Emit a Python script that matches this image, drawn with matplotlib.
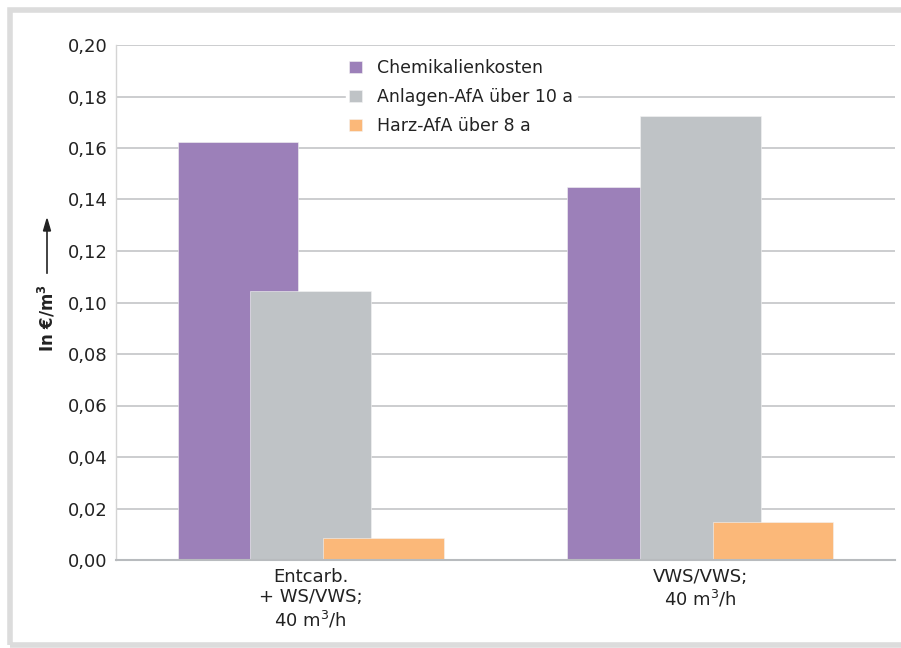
import numpy as np
from matplotlib import pyplot as plt
from matplotlib.patches import Rectangle

# Kosten je Kubikmeter fuer zwei Anlagenvarianten
groups = ['Entcarb.\n+ WS/VWS;\n40 m$^3$/h', 'VWS/VWS;\n40 m$^3$/h']
chem = [0.1623, 0.1450]
anlage = [0.1043, 0.1725]
harz = [0.0085, 0.0148]
series_names = ['Chemikalienkosten', 'Anlagen-AfA über 10 a', 'Harz-AfA über 8 a']
colors = ['#9c80b9', '#bfc3c6', '#fbb879']
yticks = [0.0, 0.02, 0.04, 0.06, 0.08, 0.10, 0.12, 0.14, 0.16, 0.18, 0.20]

plt.rcParams['font.family'] = ['DejaVu Sans']
fig = plt.figure(figsize=(9.01, 6.48), dpi=100)
ax = fig.add_axes([116/901, 1-560/648, (895-116)/901, (560-45)/648])

x = np.arange(len(groups))
w = 0.31
off = 0.187
for i, (vals, name, c) in enumerate(zip([chem, anlage, harz], series_names, colors)):
    ax.bar(x + (i-1)*off, vals, w, color=c, label=name, zorder=2+i,
           edgecolor='#f4f4f4', linewidth=0.4)

ax.set_xlim(-0.5, 1.5)
ax.set_ylim(0, 0.2)
ax.set_yticks(yticks)
ax.set_yticklabels([f'{v:.2f}'.replace('.', ',') for v in yticks], fontsize=13, color='#222222')
ax.set_xticks(x)
ax.set_xticklabels(groups, fontsize=13, color='#222222', linespacing=1.15)
ax.tick_params(axis='y', length=0, pad=6)
ax.tick_params(axis='x', length=0, pad=6)
ax.yaxis.grid(True, color='#c8c9cb', linewidth=1.3, zorder=0)
ax.set_axisbelow(True)
for s in ['top', 'right']:
    ax.spines[s].set_visible(False)
ax.spines['left'].set_color('#d4d4d4')
ax.spines['left'].set_linewidth(1.0)
ax.spines['bottom'].set_color('#b8bbbe')
ax.spines['bottom'].set_linewidth(1.5)
ax.spines['bottom'].set_zorder(6)

leg = ax.legend(loc='upper left', bbox_to_anchor=(0.284, 0.996), frameon=True,
                fontsize=12.5, handlelength=0.7, handleheight=0.7,
                handletextpad=0.9, labelspacing=0.62, borderpad=0.2)
leg.get_frame().set_facecolor('white')
leg.get_frame().set_edgecolor('white')
leg.get_frame().set_alpha(1)
leg.set_zorder(10)
for t in leg.get_texts():
    t.set_color('#222222')

# Achsbeschriftung mit Pfeil
fig.text(47/901, 1-318/648, 'In €/m$^\\mathbf{3}$', rotation=90, ha='center', va='center',
         fontsize=12, fontweight='bold', color='#222222')
fig.add_artist(plt.Line2D([47/901, 47/901], [1-273/648, 1-230/648], color='#222222', linewidth=1.2))
fig.patches.append(plt.Polygon([[43.5/901, 1-231/648], [50.5/901, 1-231/648], [47/901, 1-219/648]],
                               closed=True, transform=fig.transFigure, color='#222222'))

# grauer Rahmen
fig.patches.append(Rectangle((9.5/901, 3/648), 2, 1-12.5/648, transform=fig.transFigure,
                             fill=False, edgecolor='#dcdcdc', linewidth=4))

fig.savefig('out.png', dpi=100)
